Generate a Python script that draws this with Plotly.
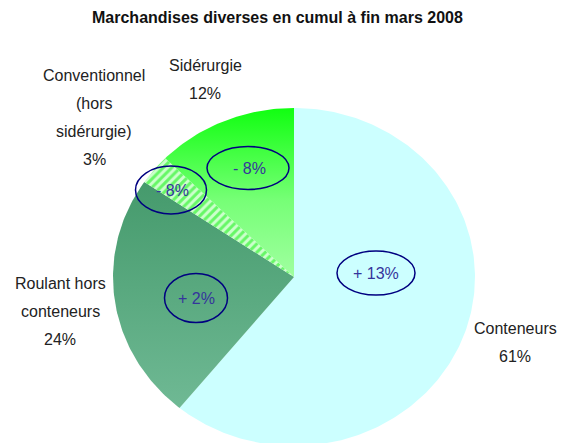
import numpy as np
import plotly.graph_objects as go

# ---- data ----
categories = ["Conteneurs", "Roulant hors conteneurs", "Conventionnel (hors sidérurgie)", "Sidérurgie"]
shares = [60.9, 23.6, 2.9, 12.6]          # slice sizes
pct_labels = ["61%", "24%", "3%", "12%"]  # percentages printed on the chart
changes = ["+ 13%", "+ 2%", "- 8%", "- 8%"]
label_lines = [["Conteneurs"], ["Roulant hors", "conteneurs"], ["Conventionnel", "(hors", "sidérurgie)"], ["Sidérurgie"]]
title_text = "Marchandises diverses en cumul à fin mars 2008"

# ---- layout / style ----
W, H = 570, 443
CX, CY, RX, RY = 294, 277, 181, 169
label_pos = [(515, 328), (60, 283), (94, 75), (205, 65)]
LINE_GAP = 28
change_ell = [(376, 273, 39, 22), (196, 298, 31.5, 24.5), (171, 190, 35.5, 24), (248, 168, 41, 21.5)]
change_txt = [(376, 273), (196, 298), (172, 190), (249, 168)]

styles = [
    dict(fillcolor="#CCFFFF"),
    dict(fillgradient=dict(type="vertical", colorscale=[[0, "#459A6C"], [1, "#6FB994"]])),
    dict(fillcolor="#CCFFCC",
         fillpattern=dict(shape="/", fgcolor="#00F000", bgcolor="#CCFFCC", size=6, solidity=0.5)),
    dict(fillgradient=dict(type="vertical", colorscale=[[0, "#11FF11"], [0.55, "#77FF77"], [1, "#A0FFA0"]])),
]

fig = go.Figure()
total = sum(shares)
cum = 0.0
for i, v in enumerate(shares):
    a0 = cum / total * 2 * np.pi
    cum += v
    a1 = cum / total * 2 * np.pi
    n = max(8, int(v * 4))
    t = np.linspace(a0, a1, n)
    xs = np.concatenate([[CX], CX + RX * np.sin(t), [CX]])
    ys = np.concatenate([[CY], CY - RY * np.cos(t), [CY]])
    st = dict(styles[i])
    if "fillgradient" in st:
        fg = dict(st["fillgradient"])
        fg["start"] = float(ys.min())
        fg["stop"] = float(ys.max())
        st["fillgradient"] = fg
    fig.add_trace(go.Scatter(x=xs, y=ys, mode="lines", fill="toself",
                             line=dict(width=0, color="rgba(0,0,0,0)"),
                             hoverinfo="skip", name=categories[i], **st))

annotations = []
txt_font = dict(family="Liberation Sans, Arial, sans-serif", size=16, color="#222222")
for i, lines in enumerate(label_lines):
    x0, y0 = label_pos[i]
    all_lines = lines + [pct_labels[i]]
    for k, ln in enumerate(all_lines):
        annotations.append(dict(x=x0, y=y0 + k * LINE_GAP, xref="x", yref="y", text=ln,
                                showarrow=False, font=txt_font, xanchor="center", yanchor="middle"))

shapes = []
for i, (ex, ey, erx, ery) in enumerate(change_ell):
    shapes.append(dict(type="circle", xref="x", yref="y", x0=ex - erx, x1=ex + erx,
                       y0=ey - ery, y1=ey + ery, line=dict(color="#000080", width=1.5),
                       fillcolor="rgba(0,0,0,0)"))
    tx, ty = change_txt[i]
    annotations.append(dict(x=tx, y=ty, xref="x", yref="y", text=changes[i], showarrow=False,
                            font=dict(family="Liberation Sans, Arial, sans-serif", size=16, color="#35359C"),
                            xanchor="center", yanchor="middle"))

annotations.append(dict(x=277, y=17, xref="x", yref="y", text=f"<b>{title_text}</b>", showarrow=False,
                        font=dict(family="Liberation Sans, Arial, sans-serif", size=16, color="#111111"),
                        xanchor="center", yanchor="middle"))

fig.update_layout(
    width=W, height=H, autosize=False,
    margin=dict(l=0, r=0, t=0, b=0),
    paper_bgcolor="white", plot_bgcolor="white",
    showlegend=False,
    xaxis=dict(range=[0, W], visible=False, fixedrange=True),
    yaxis=dict(range=[H, 0], visible=False, fixedrange=True),
    annotations=annotations, shapes=shapes,
)
fig.write_html("out.html", config={"displayModeBar": False},
               post_script="document.body.style.margin='0';document.body.style.overflow='hidden';")
